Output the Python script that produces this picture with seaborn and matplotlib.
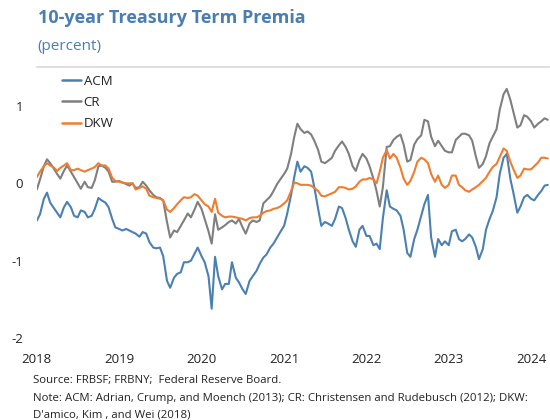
import matplotlib
matplotlib.use("Agg")
import matplotlib.pyplot as plt
import matplotlib.dates as mdates
import numpy as np
import pandas as pd
import seaborn as sns

# Semi-monthly observation dates (1st and 15th of each month)
dates = pd.date_range("2018-01-01", periods=150, freq="SMS")

# 10-year term premium estimates, percent
acm = [
    # 2018
    -0.48, -0.40, -0.20, -0.12, -0.25, -0.31, -0.38, -0.44, -0.31, -0.24, -0.31, -0.42,
    -0.44, -0.35, -0.37, -0.44, -0.42, -0.33, -0.19, -0.22, -0.25, -0.31, -0.46, -0.57,
    # 2019
    -0.59, -0.61, -0.59, -0.61, -0.63, -0.65, -0.69, -0.63, -0.65, -0.76, -0.83, -0.84,
    -0.83, -0.94, -1.26, -1.35, -1.22, -1.17, -1.15, -1.02, -1.02, -1.00, -0.91, -0.83,
    # 2020
    -0.94, -1.02, -1.20, -1.62, -0.95, -1.20, -1.37, -1.30, -1.30, -1.02, -1.22, -1.28,
    -1.37, -1.43, -1.26, -1.20, -1.13, -1.04, -0.96, -0.92, -0.83, -0.78, -0.70, -0.63,
    # 2021
    -0.55, -0.39, -0.15, 0.08, 0.28, 0.15, 0.22, 0.20, 0.15, -0.05, -0.33, -0.55,
    -0.50, -0.52, -0.55, -0.46, -0.30, -0.32, -0.45, -0.60, -0.75, -0.82, -0.60, -0.55,
    # 2022
    -0.68, -0.68, -0.80, -0.78, -0.85, -0.45, -0.09, -0.30, -0.33, -0.35, -0.42, -0.60,
    -0.90, -0.95, -0.72, -0.60, -0.42, -0.27, -0.15, -0.70, -0.95, -0.72, -0.80, -0.75,
    # 2023
    -0.80, -0.62, -0.60, -0.72, -0.75, -0.72, -0.66, -0.70, -0.82, -0.98, -0.85, -0.60,
    -0.46, -0.36, -0.18, 0.12, 0.33, 0.38, 0.06, -0.13, -0.38, -0.30, -0.18, -0.15,
    # 2024
    -0.20, -0.22, -0.15, -0.10, -0.03, -0.02,
]

cr = [
    # 2018
    -0.08, 0.05, 0.22, 0.31, 0.26, 0.20, 0.12, 0.06, 0.16, 0.23, 0.15, 0.08,
    0.00, -0.07, 0.02, -0.05, -0.06, 0.04, 0.22, 0.23, 0.20, 0.15, 0.02, 0.02,
    # 2019
    0.03, 0.01, -0.01, -0.03, 0.00, -0.06, -0.05, 0.02, -0.03, -0.09, -0.15, -0.18,
    -0.19, -0.22, -0.50, -0.70, -0.61, -0.63, -0.55, -0.48, -0.39, -0.44, -0.34, -0.24,
    # 2020
    -0.33, -0.46, -0.62, -0.78, -0.40, -0.60, -0.57, -0.54, -0.50, -0.48, -0.52, -0.46,
    -0.57, -0.65, -0.52, -0.48, -0.50, -0.48, -0.26, -0.22, -0.17, -0.10, -0.01, 0.05,
    # 2021
    0.12, 0.19, 0.38, 0.60, 0.77, 0.70, 0.65, 0.67, 0.63, 0.55, 0.43, 0.28,
    0.26, 0.29, 0.33, 0.42, 0.49, 0.54, 0.47, 0.38, 0.22, 0.16, 0.30, 0.38,
    # 2022
    0.32, 0.22, 0.06, -0.10, -0.30, -0.05, 0.47, 0.48, 0.56, 0.60, 0.63, 0.50,
    0.28, 0.30, 0.50, 0.57, 0.62, 0.82, 0.80, 0.60, 0.48, 0.55, 0.48, 0.42,
    # 2023
    0.40, 0.40, 0.56, 0.60, 0.64, 0.64, 0.62, 0.55, 0.35, 0.20, 0.25, 0.35,
    0.52, 0.60, 0.70, 0.95, 1.15, 1.22, 1.08, 0.92, 0.72, 0.75, 0.88, 0.86,
    # 2024
    0.80, 0.72, 0.77, 0.80, 0.84, 0.82,
]

dkw = [
    # 2018
    0.08, 0.15, 0.22, 0.26, 0.23, 0.21, 0.16, 0.20, 0.23, 0.26, 0.17, 0.17,
    0.19, 0.17, 0.15, 0.17, 0.19, 0.21, 0.26, 0.23, 0.23, 0.19, 0.07, 0.03,
    # 2019
    0.02, 0.01, 0.00, 0.00, 0.00, -0.08, -0.06, -0.04, -0.07, -0.16, -0.18, -0.19,
    -0.20, -0.22, -0.34, -0.37, -0.32, -0.27, -0.22, -0.18, -0.19, -0.18, -0.14, -0.16,
    # 2020
    -0.22, -0.27, -0.30, -0.37, -0.20, -0.38, -0.42, -0.44, -0.43, -0.43, -0.44, -0.45,
    -0.46, -0.48, -0.45, -0.44, -0.44, -0.42, -0.38, -0.36, -0.35, -0.33, -0.32, -0.30,
    # 2021
    -0.26, -0.22, -0.10, 0.01, 0.00, -0.02, -0.02, -0.02, -0.03, -0.06, -0.10, -0.16,
    -0.17, -0.15, -0.13, -0.11, -0.05, -0.05, -0.06, -0.08, -0.07, -0.04, 0.02, 0.05,
    # 2022
    0.05, 0.07, 0.05, 0.00, 0.15, 0.33, 0.43, 0.32, 0.38, 0.33, 0.20, 0.06,
    -0.02, 0.03, 0.15, 0.28, 0.33, 0.31, 0.26, 0.12, 0.02, 0.10, -0.02, -0.06,
    # 2023
    -0.02, 0.10, 0.10, -0.02, -0.05, -0.09, -0.11, -0.08, -0.05, -0.02, 0.03, 0.07,
    0.15, 0.21, 0.25, 0.34, 0.45, 0.42, 0.28, 0.18, 0.07, 0.10, 0.19, 0.18,
    # 2024
    0.18, 0.22, 0.27, 0.33, 0.33, 0.32,
]

series_names = ["ACM", "CR", "DKW"]
series_colors = ["#4b80b3", "#7f7f7f", "#ee7d31"]
year_ticks = [f"{y}-01-01" for y in range(2018, 2025)]

df = pd.concat(
    [pd.DataFrame({"date": dates, "value": v, "model": n})
     for n, v in zip(series_names, [acm, cr, dkw])],
    ignore_index=True,
)

sns.set_theme(style="white")
plt.rcParams["font.family"] = ["Open Sans", "DejaVu Sans"]

fig = plt.figure(figsize=(5.5, 4.2), dpi=100)
ax = fig.add_axes([0.067, 0.195, 0.931, 0.645])

sns.lineplot(
    data=df, x="date", y="value", hue="model",
    palette=dict(zip(series_names, series_colors)),
    linewidth=1.5, ax=ax,
)

ax.set_xlim(pd.Timestamp("2018-01-01"), pd.Timestamp("2024-03-20"))
ax.set_ylim(-2, 1.5)
ax.set_yticks([-2, -1, 0, 1])
ax.set_yticklabels(["-2", "-1", "0", "1"])
ax.set_xticks(pd.to_datetime(year_ticks))
ax.xaxis.set_major_formatter(mdates.DateFormatter("%Y"))
ax.set_xlabel("")
ax.set_ylabel("")

for side in ["left", "right", "bottom"]:
    ax.spines[side].set_visible(False)
ax.spines["top"].set_color("#d9d9d9")
ax.spines["top"].set_linewidth(1.2)

ax.tick_params(axis="both", length=0, labelsize=9.5, colors="#222222")
ax.tick_params(axis="y", pad=10)
ax.tick_params(axis="x", pad=11)

leg = ax.legend(
    loc="upper left", bbox_to_anchor=(0.05, 0.972), frameon=False,
    fontsize=9.5, handlelength=1.4, handletextpad=0.2, labelspacing=0.62,
    borderpad=0, borderaxespad=0,
)
for line in leg.get_lines():
    line.set_linewidth(1.8)
for txt in leg.get_texts():
    txt.set_color("#222222")

fig.text(38 / 550, 1 - 18 / 420, "10-year Treasury Term Premia",
         fontsize=13, fontweight="bold", color="#4a7db0", va="center", ha="left")
fig.text(37 / 550, 1 - 46 / 420, "(percent)",
         fontsize=11, color="#4a7db0", va="center", ha="left")

notes = [
    "Source: FRBSF; FRBNY;  Federal Reserve Board.",
    "Note: ACM: Adrian, Crump, and Moench (2013); CR: Christensen and Rudebusch (2012); DKW:",
    "D'amico, Kim , and Wei (2018)",
]
for i, line in enumerate(notes):
    fig.text(33 / 550, 1 - (381 + 17 * i) / 420, line,
             fontsize=8.2, color="#222222", va="center", ha="left")

fig.savefig("out.png", dpi=100)
